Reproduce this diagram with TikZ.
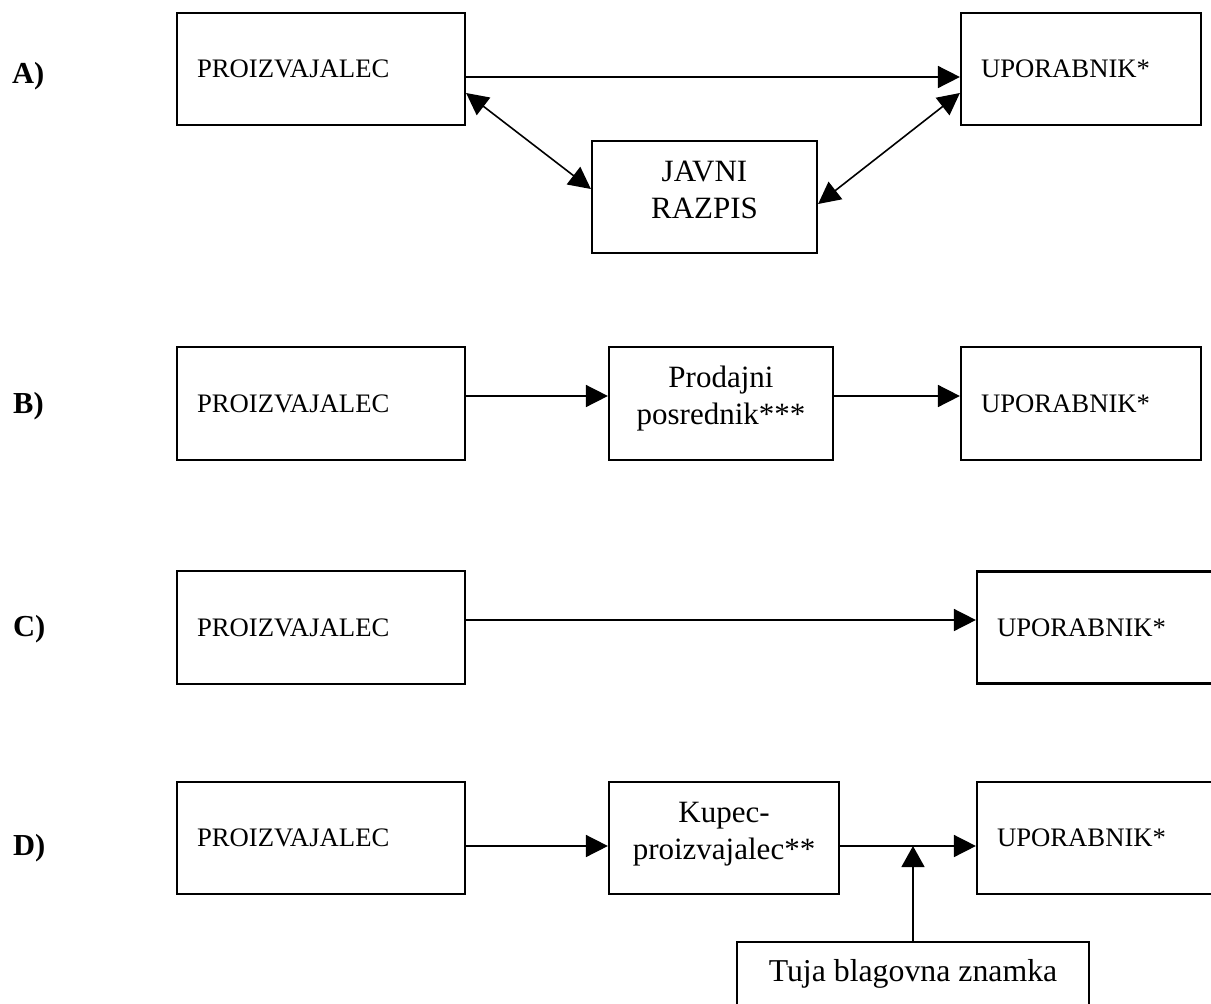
\documentclass[tikz,border=0pt]{standalone}
\usepackage{fontspec}
\setmainfont{Liberation Serif}
\usetikzlibrary{arrows.meta}
\newcommand\myBoxFont{\fontsize{26.7}{32}\selectfont}
\newcommand\myMidFont{\fontsize{31}{37}\selectfont}
\newcommand\myTujaFont{\fontsize{31.8}{37}\selectfont}
\newcommand\myLabFont{\fontsize{30.5}{36}\selectfont\bfseries}
\newcommand\myDn[1]{\rule[-#1pt]{0pt}{#1pt}}
\tikzset{
  box/.style={draw, line width=2.2pt, inner sep=0pt},
  lbox/.style={box, font=\myBoxFont, align=left, inner xsep=20pt, inner ysep=0pt},
  cbox/.style={box, font=\myMidFont, align=center},
  arr/.style={line width=1.6pt, -{Triangle[length=22pt,width=22pt]}},
  darr/.style={line width=1.6pt, {Triangle[length=22pt,width=22pt]}-{Triangle[length=22pt,width=22pt]}},
  varr/.style={line width=1.3pt, -{Triangle[length=21pt,width=23pt]}},
  lab/.style={font=\myLabFont, anchor=base west, inner sep=0pt},
}
\begin{document}
\begin{tikzpicture}[x=1pt,y=-1pt]
\useasboundingbox (0,0) rectangle (1211,1004);
\fill[white] (0,0) rectangle (1211,1004);
\clip (0,0) rectangle (1211,1004);

% labels
\node[lab] (la) at (12,83) {A)};
\node[lab] (lb) at (13,413) {B)};
\node[lab] (lc) at (13,636) {C)};
\node[lab] (ld) at (13,855) {D)};

% row A
\node[lbox, minimum width=288pt, text width=248pt, minimum height=112pt] (pA) at (321,69) {PROIZVAJALEC};
\node[lbox, minimum width=240pt, text width=200pt, minimum height=112pt] (uA) at (1081,69) {UPORABNIK*};
\node[cbox, minimum width=225pt, minimum height=112pt] (jA) at (704.5,197) {JAVNI\\RAZPIS\myDn{14}};
\draw[arr] ([yshift=-8pt]pA.east) -- ([yshift=-8pt]uA.west);
\draw[darr] ([yshift=-24pt]pA.east) -- ([yshift=8pt]jA.west);
\draw[darr] ([yshift=-24pt]uA.west) -- ([yshift=-7pt]jA.east);

% row B
\node[lbox, minimum width=288pt, text width=248pt, minimum height=113pt] (pB) at (321,403.5) {PROIZVAJALEC};
\node[cbox, minimum width=224pt, minimum height=113pt] (prB) at (721,403.5) {Prodajni\\posrednik***\myDn{17}};
\node[lbox, minimum width=240pt, text width=200pt, minimum height=113pt] (uB) at (1081,403.5) {UPORABNIK*};
\draw[arr] ([yshift=7.5pt]pB.east) -- ([yshift=7.5pt]prB.west);
\draw[arr] ([yshift=7.5pt]prB.east) -- ([yshift=7.5pt]uB.west);

% row C
\node[lbox, minimum width=288pt, text width=248pt, minimum height=113pt] (pC) at (321,627.5) {PROIZVAJALEC};
\node[lbox, minimum width=253pt, text width=213pt, minimum height=112pt] (uC) at (1103.5,627.5) {UPORABNIK*};
\draw[arr] ([yshift=7.5pt]pC.east) -- ([yshift=7.5pt]uC.west);

% row D
\node[lbox, minimum width=288pt, text width=248pt, minimum height=112pt] (pD) at (321,838) {PROIZVAJALEC};
\node[cbox, minimum width=230pt, minimum height=112pt] (kD) at (724,838) {Kupec-\\proizvajalec**\myDn{15}};
\node[lbox, minimum width=253pt, text width=213pt, minimum height=112pt] (uD) at (1103.5,838) {UPORABNIK*};
\node[box, font=\myTujaFont, minimum width=352pt, minimum height=64.6pt] (tD) at (913,974.3) {Tuja blagovna znamka};
\coordinate (dl) at ([yshift=-8pt]kD.east);
\draw[arr] ([yshift=-8pt]pD.east) -- ([yshift=-8pt]kD.west);
\draw[arr] (dl) -- ([yshift=-8pt]uD.west);
\draw[varr] (tD.north) -- (tD.north |- dl);
\end{tikzpicture}
\end{document}
